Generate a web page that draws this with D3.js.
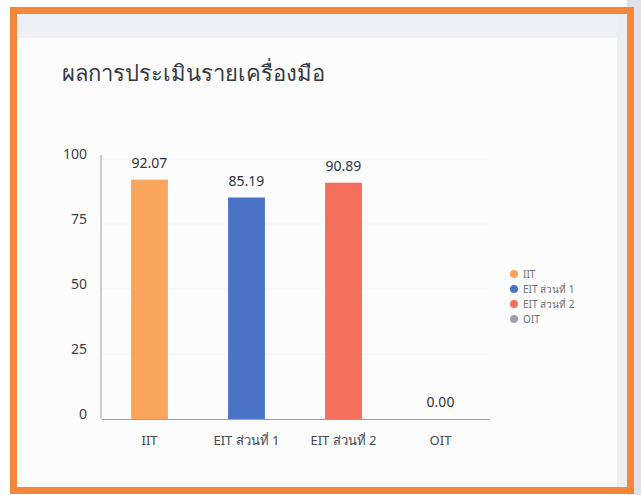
<!DOCTYPE html>
<html><head><meta charset="utf-8">
<script src="https://cdn.jsdelivr.net/npm/d3@7/dist/d3.min.js"></script>
<style>
html,body{margin:0;padding:0;background:#fff;}
svg{display:block;}
</style></head>
<body>
<svg id="chart" width="641" height="495"></svg>
<script>
const title = "ผลการประเมินรายเครื่องมือ";
const categories = ["IIT", "EIT ส่วนที่ 1", "EIT ส่วนที่ 2", "OIT"];
const values = [92.07, 85.19, 90.89, 0.00];
const colors = ["#f9a55e", "#4a72c6", "#f4705d", "#9aa1ad"];
const yTicks = [0, 25, 50, 75, 100];

const svg = d3.select("#chart");
const font = "'Noto Sans', 'Open Sans', sans-serif";

// frame
svg.append("rect").attr("x", 0).attr("y", 0).attr("width", 641).attr("height", 495).attr("fill", "#ffffff");
svg.append("rect").attr("x", 627).attr("y", 0).attr("width", 14).attr("height", 495).attr("fill", "#dfe2ea");
svg.append("rect").attr("x", 13).attr("y", 10).attr("width", 618).attr("height", 480).attr("fill", "#fcfcfd");
svg.append("rect").attr("x", 17).attr("y", 14).attr("width", 608).attr("height", 24).attr("fill", "#eef0f5");
svg.append("rect").attr("x", 617).attr("y", 14).attr("width", 10).attr("height", 474).attr("fill", "#eceef3");
svg.append("rect").attr("x", 13.5).attr("y", 10.5).attr("width", 617).attr("height", 480)
  .attr("fill", "none").attr("stroke", "#f5873a").attr("stroke-width", 7);

svg.append("text").attr("x", 62).attr("y", 81).text(title)
  .attr("font-family", font).attr("font-size", 22).attr("fill", "#333a44");

const x = d3.scaleBand().domain(categories).range([101, 489]).paddingInner(0.62).paddingOuter(0.31);
const y = d3.scaleLinear().domain([0, 100]).range([419, 159]);

const g = svg.append("g");

// faint gridlines
g.selectAll("line.grid").data(yTicks.slice(1)).join("line")
  .attr("x1", 101).attr("x2", 489).attr("y1", d => y(d)).attr("y2", d => y(d))
  .attr("stroke", "#f2f5f5").attr("stroke-width", 1);

// bars
g.selectAll("rect.bar").data(values).join("rect")
  .attr("x", (d, i) => x(categories[i]))
  .attr("width", x.bandwidth())
  .attr("y", d => y(d))
  .attr("height", d => y(0) - y(d))
  .attr("fill", (d, i) => colors[i]);

// value labels
g.selectAll("text.val").data(values).join("text")
  .attr("x", (d, i) => x(categories[i]) + x.bandwidth() / 2)
  .attr("y", d => y(d) - 12)
  .attr("text-anchor", "middle")
  .attr("font-family", font).attr("font-size", 14).attr("fill", "#2e3440")
  .text(d => d.toFixed(2));

// y axis
const yAxis = d3.axisLeft(y).tickValues(yTicks).tickSize(0).tickPadding(14);
const ya = svg.append("g").attr("transform", "translate(101,0)").call(yAxis);
ya.select(".domain").attr("stroke", "#9aa0a8").attr("d", "M0,155V419");
ya.selectAll("text").attr("font-family", font).attr("font-size", 14).attr("fill", "#3a3f47")
  .attr("dy", "-0.05em");

// x axis
const xAxis = d3.axisBottom(x).tickSize(0).tickPadding(17);
const xa = svg.append("g").attr("transform", "translate(0,419)").call(xAxis);
xa.select(".domain").attr("stroke", "#9aa0a8");
xa.selectAll("text").attr("font-family", font).attr("font-size", 13).attr("fill", "#454a52");

// legend
const leg = svg.append("g");
const items = leg.selectAll("g").data(categories).join("g")
  .attr("transform", (d, i) => `translate(514,${274 + i * 15})`);
items.append("circle").attr("r", 4).attr("fill", (d, i) => colors[i]);
items.append("text").attr("x", 9).attr("y", 3.5).text(d => d)
  .attr("font-family", font).attr("font-size", 10).attr("fill", "#6b7079");
</script>
</body></html>
